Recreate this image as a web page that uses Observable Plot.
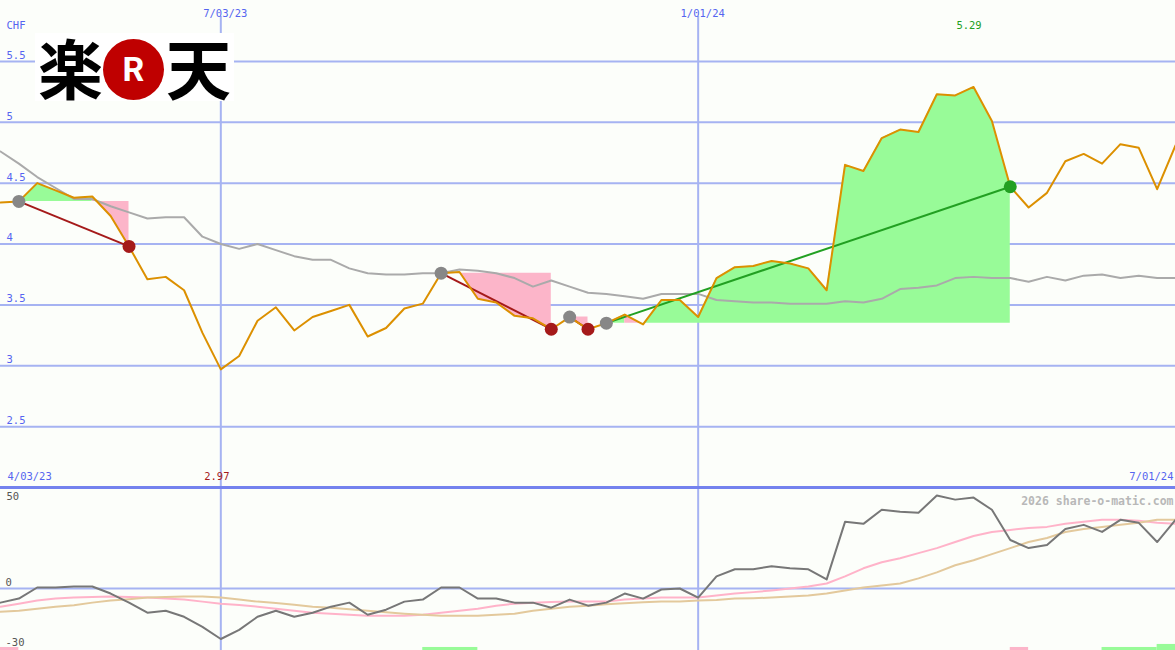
<!DOCTYPE html>
<html><head><meta charset="utf-8">
<script src="https://cdn.jsdelivr.net/npm/d3@7"></script>
<script src="https://cdn.jsdelivr.net/npm/@observablehq/plot@0.6"></script>
<style>
html,body{margin:0;padding:0;background:#fcfefa;}
#chart{position:relative;width:1175px;height:650px;overflow:hidden;background:#fcfefa;}
#chart svg{display:block;}
#logo{position:absolute;left:35px;top:33px;width:199px;height:68px;background:#ffffff;}
#logo .kj{position:absolute;top:-1px;font-family:"Noto Sans CJK JP";font-weight:700;font-size:65px;line-height:68px;color:#000;}
#logo .circ{position:absolute;left:68px;top:6px;width:61px;height:61px;border-radius:50%;background:#bf0000;color:#fff;font-family:Roboto,"DejaVu Sans";font-weight:700;font-size:34px;line-height:61px;text-align:center;}
</style></head><body>
<div id="chart"></div>
<script>
// ---- data ----
const startDate = "2023-04-10";
const endDate = "2024-07-01";
const price = [4.34,4.35,4.50,4.44,4.38,4.39,4.23,3.98,3.71,3.73,3.62,3.27,2.97,3.08,3.37,3.48,3.29,3.40,3.45,3.50,3.24,3.31,3.47,3.51,3.76,3.77,3.55,3.52,3.41,3.39,3.30,3.40,3.30,3.35,3.42,3.34,3.54,3.54,3.40,3.72,3.81,3.82,3.86,3.84,3.80,3.62,4.65,4.60,4.87,4.94,4.92,5.23,5.22,5.29,5.01,4.47,4.30,4.42,4.68,4.74,4.66,4.82,4.79,4.45,4.81];
const average = [4.76,4.66,4.55,4.46,4.37,4.37,4.31,4.26,4.21,4.22,4.22,4.06,4.00,3.96,4.00,3.95,3.90,3.87,3.87,3.80,3.76,3.75,3.75,3.76,3.76,3.79,3.78,3.76,3.72,3.65,3.70,3.65,3.60,3.59,3.57,3.55,3.59,3.59,3.59,3.54,3.53,3.52,3.52,3.51,3.51,3.51,3.53,3.52,3.55,3.63,3.64,3.66,3.72,3.73,3.72,3.72,3.69,3.73,3.70,3.74,3.75,3.72,3.74,3.72,3.72];
const oscillator = [-7,-5,0.5,0.5,1,1,-2.5,-7,-12,-11,-14,-19,-25,-20.5,-14,-11,-14,-12,-9,-7,-13,-10.5,-6.5,-5.5,0.5,0.5,-5,-5,-7,-7,-9.5,-5.5,-8.5,-7,-2.5,-5,-0.5,0,-4.5,6,9.5,9.5,11,10,9.5,4.5,33,32,39,38,37.5,46,44,45,39,24,20,21.5,29.5,31.5,28,34,32.5,23,34];
const oscFast = [-9,-7.5,-6,-5,-4.5,-4.2,-4,-4.2,-4.5,-5,-5.5,-6.5,-7.5,-8.2,-9,-10,-11,-12,-12.5,-13,-13.5,-13.5,-13.5,-13,-12,-11,-10,-8.5,-7.5,-7,-6.7,-6.5,-6.5,-6.5,-5.5,-5,-4.5,-4.5,-4.5,-3.5,-2.5,-1.8,-1,0,1,2.5,6,10,13,15,17.5,20,23,26,28,29,30,30.5,32,33,34,34,33.5,32.5,32];
const oscSlow = [-11.5,-11,-10,-9,-8.3,-7,-6,-5.3,-4.5,-4.2,-4,-4,-4.5,-5.5,-6.5,-7.2,-8,-9,-9.5,-10.3,-11,-11.8,-12.5,-13,-13.5,-13.5,-13.5,-13,-12.5,-11,-10,-9,-8.5,-7.8,-7.3,-6.8,-6.5,-6.5,-6,-5.7,-5,-4.8,-4.5,-4,-3.5,-2.5,-1,0.5,1.5,2.5,5,8,11.5,14,17,20,23,25,28,29.5,30.5,31.5,32.5,34,34];
const tradeEntry = [1,24,31,33];
const tradeExit = [7,30,32,55];
const priceTicks = [2.5,3,3.5,4,4.5,5,5.5];
const dateMarks = ["2023-07-03","2024-01-01"];
const dateMarkLabels = ["7/03/23","1/01/24"];
const rangeLabels = ["4/03/23","7/01/24"];
const currency = "CHF";
const oscTopTick = [50];
const oscTicks = [0,-30];
const signalStart = [0,23,55,60,63];
const signalEnd = [1,26,56,63,64];
const signalKind = ["sell","buy","sell","buy","buy"];
const signalSize = [1,1,1,1,2];
const watermark = "2026 share-o-matic.com";

// ---- styles ----
const BG="#fcfefa", GRID="#a6b3f2", DIVIDER="#7482ee", AXIS="#5565f0";
const ORANGE="#dc9000", MAGRAY="#aaaaaa", OSC="#777777", PINKLINE="#ffb3c9", TAN="#e3c99c";
const GREENFILL="#98fb98", PINKFILL="#fcb5c9", WIN="#22a022", LOSS="#a51a1a", ENTRY="#878787";
const FONT="DejaVu Sans Mono";
const W=1175, H1=487, H2=163, OSC_MIN=-30.7, OSC_MAX=50;

// ---- derived tables ----
const dates = d3.utcMonday.range(new Date(startDate), d3.utcDay.offset(new Date(endDate),1));
const rows = dates.map((d,i)=>({date:d, price:price[i], avg:average[i], osc:oscillator[i], fast:oscFast[i], slow:oscSlow[i]}));
const trades = tradeEntry.map((e,k)=>({e, x:tradeExit[k], entry:price[e], exit:price[tradeExit[k]], win:price[tradeExit[k]]>price[e]}));
// contiguous runs of same-signed segments, one polygon each
const segs = [];
trades.forEach((t,k)=>{
  let run = -1, prevUp = null;
  for(let i=t.e;i<t.x;i++){
    const up = price[i+1] >= t.entry;
    if (up !== prevUp) { run++; prevUp = up; segs.push({seg:k+"-"+run, up, date:dates[i], base:t.entry, p:price[i]}); }
    segs.push({seg:k+"-"+run, up, date:dates[i+1], base:t.entry, p:price[i+1]});
  }
});
const iMax = d3.maxIndex(price), iMin = d3.minIndex(price);
const marks = dateMarks.map(d=>new Date(d));
const signals = signalStart.map((s,k)=>({x1:dates[s], x2:dates[signalEnd[k]], kind:signalKind[k], size:signalSize[k]}));

const xScale = {type:"utc", domain:[new Date(startDate), new Date(endDate)], range:[0,W], axis:null};

const main = Plot.plot({
  width:W, height:H1, margin:0,
  x:xScale,
  y:{domain:[2,6], axis:null},
  color:{type:"identity"},
  style:{background:BG, fontFamily:FONT, fontSize:"10.5px", overflow:"hidden"},
  marks:[
    Plot.ruleY(priceTicks,{stroke:GRID, strokeWidth:2}),
    Plot.ruleX(marks,{stroke:GRID, strokeWidth:2, insetTop:16}),
    Plot.ruleY([2],{stroke:DIVIDER, strokeWidth:3}),
    Plot.areaY(segs.filter(d=>d.up),{x:"date", y1:"base", y2:"p", z:"seg", fill:GREENFILL}),
    Plot.areaY(segs.filter(d=>!d.up),{x:"date", y1:"base", y2:"p", z:"seg", fill:PINKFILL}),
    Plot.line(rows,{x:"date", y:"avg", stroke:MAGRAY, strokeWidth:2}),
    Plot.link(trades,{x1:t=>dates[t.e], y1:"entry", x2:t=>dates[t.x], y2:"exit", stroke:t=>t.win?WIN:LOSS, strokeWidth:2}),
    Plot.line(rows,{x:"date", y:"price", stroke:ORANGE, strokeWidth:2}),
    Plot.dot(trades,{x:t=>dates[t.e], y:"entry", r:6.5, fill:ENTRY}),
    Plot.dot(trades,{x:t=>dates[t.x], y:"exit", r:6.5, fill:t=>t.win?WIN:LOSS}),
    Plot.text(priceTicks,{y:d=>d, frameAnchor:"left", dx:6, dy:-6, text:d=>String(d), fill:AXIS, textAnchor:"start"}),
    Plot.text([currency],{frameAnchor:"top-left", dx:6, dy:21, text:d=>d, fill:AXIS, textAnchor:"start"}),
    Plot.text(marks,{x:d=>d, frameAnchor:"top", dy:9, dx:4.5, text:(d,i)=>dateMarkLabels[i], fill:AXIS}),
    Plot.text([iMax],{x:i=>dates[i], frameAnchor:"top", dy:21, dx:-4.5, text:i=>price[i].toFixed(2), fill:WIN}),
    Plot.text([iMin],{x:i=>dates[i], frameAnchor:"bottom", dy:-8, dx:-4, text:i=>price[i].toFixed(2), fill:LOSS}),
    Plot.text([rangeLabels[0]],{frameAnchor:"bottom-left", dx:7, dy:-8, text:d=>d, fill:AXIS, textAnchor:"start"}),
    Plot.text([rangeLabels[1]],{frameAnchor:"bottom-right", dx:-2, dy:-8, text:d=>d, fill:AXIS, textAnchor:"end"})
  ]
});

const lower = Plot.plot({
  width:W, height:H2, margin:0,
  x:xScale,
  y:{domain:[OSC_MIN, OSC_MAX], axis:null},
  color:{type:"identity"},
  style:{background:BG, fontFamily:FONT, fontSize:"10.5px", overflow:"hidden"},
  marks:[
    Plot.ruleX(marks,{stroke:GRID, strokeWidth:2}),
    Plot.ruleY(oscTicks.filter(d=>d===0),{stroke:GRID, strokeWidth:2}),
    Plot.ruleY([OSC_MAX],{stroke:DIVIDER, strokeWidth:3}),
    Plot.rectY(signals,{x1:"x1", x2:"x2", y1:OSC_MIN, y2:d=>OSC_MIN+1.5*d.size, fill:d=>d.kind==="buy"?GREENFILL:PINKFILL}),
    Plot.line(rows,{x:"date", y:"fast", stroke:PINKLINE, strokeWidth:2}),
    Plot.line(rows,{x:"date", y:"slow", stroke:TAN, strokeWidth:2}),
    Plot.line(rows,{x:"date", y:"osc", stroke:OSC, strokeWidth:2}),
    Plot.text(oscTopTick,{y:d=>d, frameAnchor:"left", dx:6, dy:9, text:d=>String(d), fill:"#555555", textAnchor:"start"}),
    Plot.text(oscTicks,{y:d=>d, frameAnchor:"left", dx:5, dy:-6, text:d=>String(d), fill:"#555555", textAnchor:"start"}),
    Plot.text([watermark],{frameAnchor:"top-right", dx:-2, dy:9, text:d=>d, fill:"#b8b8b8", fontWeight:"bold", fontSize:11.5, textAnchor:"end"})
  ]
});

const chart = document.getElementById("chart");
chart.appendChild(main);
chart.appendChild(lower);
const logo = document.createElement("div");
logo.id = "logo";
logo.innerHTML = '<span class="kj" style="left:3px">楽</span><div class="circ">R</div><span class="kj" style="left:131px">天</span>';
chart.appendChild(logo);
</script>
</body></html>
